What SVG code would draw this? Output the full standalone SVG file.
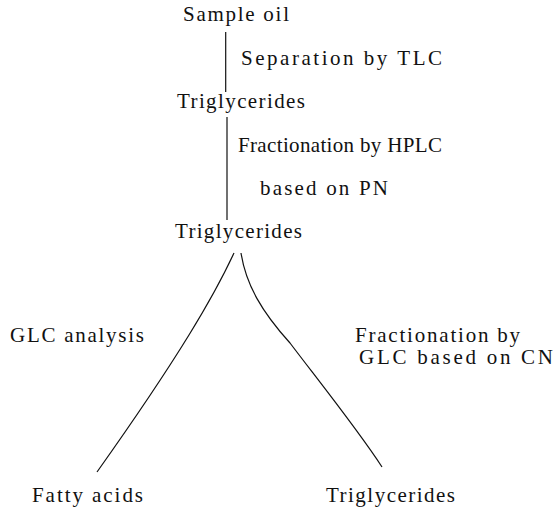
<svg xmlns="http://www.w3.org/2000/svg" width="556" height="512" viewBox="0 0 556 512">
<style>
text{font-family:"Liberation Serif","Times New Roman",serif;font-size:21px;fill:#111}
.c{fill:none;stroke:#111;stroke-width:1.2;stroke-linejoin:round}
</style>
<rect width="556" height="512" fill="#fff"/>
<g id="connectors">
<path class="c" d="M225.7 32 L225.7 92"/>
<path class="c" d="M227 117 L227 220"/>
<path class="c" d="M234 253 C214 296 180 355 97 472"/>
<path class="c" d="M241 253 C246 285 262 312 290 343 C318 380 358 430 382 467"/>
</g>
<g id="sample-oil"><text x="183" y="21" textLength="106" lengthAdjust="spacing">Sample oil</text></g>
<g id="label-tlc"><text x="241" y="65" textLength="201" lengthAdjust="spacing">Separation by  TLC</text></g>
<g id="triglycerides-1"><text x="177" y="108" textLength="128" lengthAdjust="spacing">Triglycerides</text></g>
<g id="label-hplc">
<text x="238" y="152" textLength="204" lengthAdjust="spacing">Fractionation by  HPLC</text>
<text x="260" y="195" textLength="128" lengthAdjust="spacing">based on PN</text>
</g>
<g id="triglycerides-2"><text x="175" y="238" textLength="127" lengthAdjust="spacing">Triglycerides</text></g>
<g id="label-glc"><text x="10" y="342" textLength="134" lengthAdjust="spacing">GLC  analysis</text></g>
<g id="label-cn">
<text x="355" y="342" textLength="165" lengthAdjust="spacing">Fractionation by</text>
<text x="359" y="364" textLength="194" lengthAdjust="spacing">GLC based on CN</text>
</g>
<g id="fatty-acids"><text x="32" y="502" textLength="111" lengthAdjust="spacing">Fatty acids</text></g>
<g id="triglycerides-3"><text x="326" y="502" textLength="129" lengthAdjust="spacing">Triglycerides</text></g>
</svg>
